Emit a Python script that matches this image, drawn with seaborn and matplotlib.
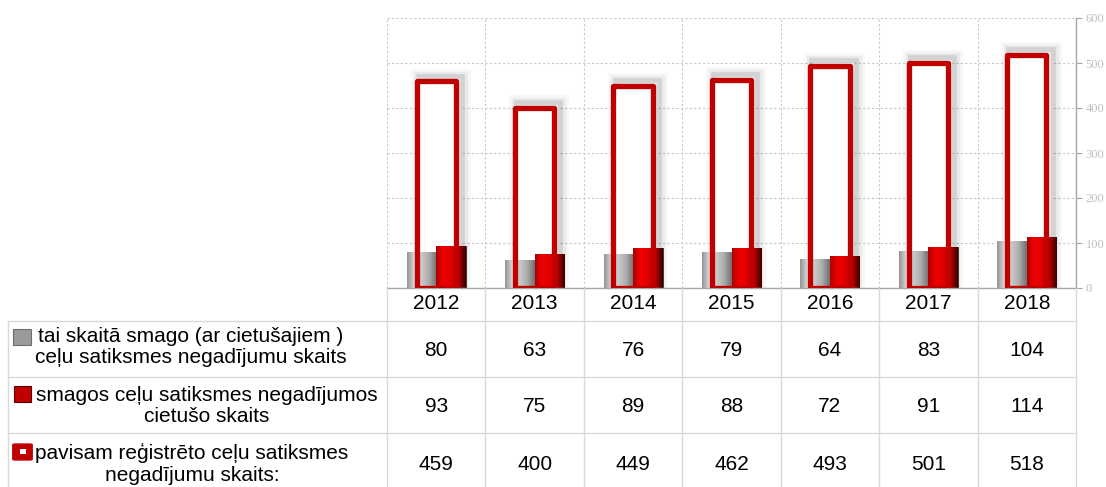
import numpy as np
import pandas as pd
import matplotlib
matplotlib.use("Agg")
import matplotlib.pyplot as plt
import matplotlib.patheffects as pe
from matplotlib.lines import Line2D
from matplotlib.patches import Rectangle, FancyBboxPatch
from matplotlib.colors import LinearSegmentedColormap
import seaborn as sns

# data
years = ["2012", "2013", "2014", "2015", "2016", "2017", "2018"]
serious_accidents = [80, 63, 76, 79, 64, 83, 104]
serious_injured = [93, 75, 89, 88, 72, 91, 114]
registered_total = [459, 400, 449, 462, 493, 501, 518]
row_labels = [
    "tai skaitā smago (ar cietušajiem )\nceļu satiksmes negadījumu skaits",
    "smagos ceļu satiksmes negadījumos\ncietušo skaits",
    "pavisam reģistrēto ceļu satiksmes\nnegadījumu skaits:",
]
y_ticks = [0, 100, 200, 300, 400, 500, 600]

# layout in pixels
W, H = 1106, 487
L, R, TOP, BASE = 387, 1076, 18, 288
TABLE_LEFT = 8
row_lines = [321, 377, 433]
row_mid = [347, 406, 464]
value_mid = [351, 407, 465]
label_cx = [191, 207, 192]
GRID = "#D9D9D9"
RED = "#C00000"


def fx(px):
    return px / W


def fy(py):
    return 1 - py / H


sns.set_theme(style="white")
plt.rcParams["font.family"] = ["Liberation Sans", "DejaVu Sans"]
plt.rcParams["text.color"] = "black"

fig = plt.figure(figsize=(W / 100, H / 100), dpi=100)
ax = fig.add_axes([fx(L), fy(BASE), (R - L) / W, (BASE - TOP) / H])

long = pd.DataFrame({
    "year": years * 2,
    "value": serious_accidents + serious_injured,
    "series": ["accidents"] * len(years) + ["injured"] * len(years),
})

# white body of the total bars (with a soft shadow up and to the right)
sns.barplot(x=years, y=registered_total, order=years, color="white", width=0.40,
            linewidth=0, saturation=1, errorbar=None, ax=ax)
n = len(years)
for p in ax.patches[:n]:
    p.set_zorder(1.5)
    p.set_path_effects([
        pe.Stroke(linewidth=15, foreground=(0, 0, 0, 0.03), offset=(3, 2)),
        pe.Stroke(linewidth=11, foreground=(0, 0, 0, 0.05), offset=(3, 2)),
        pe.Stroke(linewidth=7, foreground=(0, 0, 0, 0.10), offset=(3, 2)),
        pe.Normal(),
    ])

# filled bars
sns.barplot(data=long, x="year", y="value", hue="series", order=years,
            palette=["#A6A6A6", "#D00000"], width=0.60, saturation=1,
            linewidth=0.7, edgecolor="#3A3A3A", errorbar=None, legend=False, ax=ax)
filled = ax.patches[n:3 * n]

# red outline of the total bars
sns.barplot(x=years, y=registered_total, order=years, fill=False, color=RED,
            width=0.40, linewidth=3.8, saturation=1, errorbar=None, ax=ax)
for p in ax.patches[3 * n:]:
    p.set_zorder(4)
    p.set_joinstyle("round")

# bevel shading on the filled bars
gray_cmap = LinearSegmentedColormap.from_list(
    "g", ["#959595", "#DADADA", "#C8C8C8", "#ABABAB", "#707070"])
red_cmap = LinearSegmentedColormap.from_list(
    "r", ["#B00000", "#F00000", "#E00000", "#B80000", "#3A0000"])
grad = np.linspace(0, 1, 64).reshape(1, -1)
for i, p in enumerate(filled):
    p.set_zorder(2)
    x0, y0 = p.get_x(), p.get_y()
    w, h = p.get_width(), p.get_height()
    cmap = gray_cmap if i < n else red_cmap
    im = ax.imshow(grad, cmap=cmap, aspect="auto", extent=[x0, x0 + w, y0, y0 + h],
                   zorder=2.2, interpolation="bilinear")
    im.set_clip_path(p)

ax.set_xlim(-0.5, n - 0.5)
ax.set_ylim(0, 600)
ax.set_yticks(y_ticks)
ax.set_xticks(np.arange(-0.5, n), minor=True)
ax.set_axisbelow(True)
ax.yaxis.grid(True, color="#C8C8C8", linestyle=(0, (2, 2)), linewidth=0.8)
ax.xaxis.grid(True, which="minor", color="#C8C8C8", linestyle=(0, (2, 2)), linewidth=0.8)
ax.xaxis.grid(False, which="major")
ax.yaxis.tick_right()
ax.set_xlabel("")
ax.set_ylabel("")
ax.tick_params(axis="y", right=True, length=4, width=0.8, color="#A6A6A6", pad=3,
               labelsize=9, labelcolor="#BFBFBF", labelfontfamily="Liberation Serif")
ax.tick_params(axis="x", which="both", length=0, pad=4, labelsize=15, labelcolor="black")
for side in ["left", "top"]:
    ax.spines[side].set_visible(False)
for side in ["right", "bottom"]:
    ax.spines[side].set_visible(True)
    ax.spines[side].set_color("#A6A6A6")
    ax.spines[side].set_linewidth(1)

# data table under the chart
col_w = (R - L) / n
for i in range(n + 1):
    xb = L + i * col_w
    fig.add_artist(Line2D([fx(xb), fx(xb)], [fy(BASE), 0], color=GRID, lw=1))
fig.add_artist(Line2D([fx(TABLE_LEFT), fx(TABLE_LEFT)], [fy(row_lines[0]), 0], color=GRID, lw=1))
for yl in row_lines:
    fig.add_artist(Line2D([fx(TABLE_LEFT), fx(R)], [fy(yl), fy(yl)], color=GRID, lw=1))

table_rows = [serious_accidents, serious_injured, registered_total]
for r, values in enumerate(table_rows):
    for i, v in enumerate(values):
        fig.text(fx(L + (i + 0.5) * col_w), fy(value_mid[r]), str(v),
                 ha="center", va="center", fontsize=15)
    fig.text(fx(label_cx[r]), fy(row_mid[r]), row_labels[r], ha="center", va="center",
             fontsize=15, linespacing=1.15, multialignment="center")

# legend keys inside the label cells
icon_top = [329, 386, 444]
fig.add_artist(Rectangle((fx(13), fy(icon_top[0] + 16)), 18 / W, 16 / H,
                         transform=fig.transFigure, facecolor="#9A9A9A",
                         edgecolor="#6E6E6E", lw=0.8))
fig.add_artist(Rectangle((fx(14), fy(icon_top[1] + 16)), 17 / W, 16 / H,
                         transform=fig.transFigure, facecolor="#C00000",
                         edgecolor="#600000", lw=0.8))
fig.add_artist(FancyBboxPatch((fx(15), fy(icon_top[2] + 15)), 15 / W, 14 / H,
                              boxstyle="round,pad=0.002", transform=fig.transFigure,
                              facecolor=RED, edgecolor=RED, lw=1))
fig.add_artist(Rectangle((fx(19.5), fy(icon_top[2] + 10)), 6 / W, 5 / H,
                         transform=fig.transFigure, facecolor="white", edgecolor="none"))

fig.savefig("out.png", dpi=100)
